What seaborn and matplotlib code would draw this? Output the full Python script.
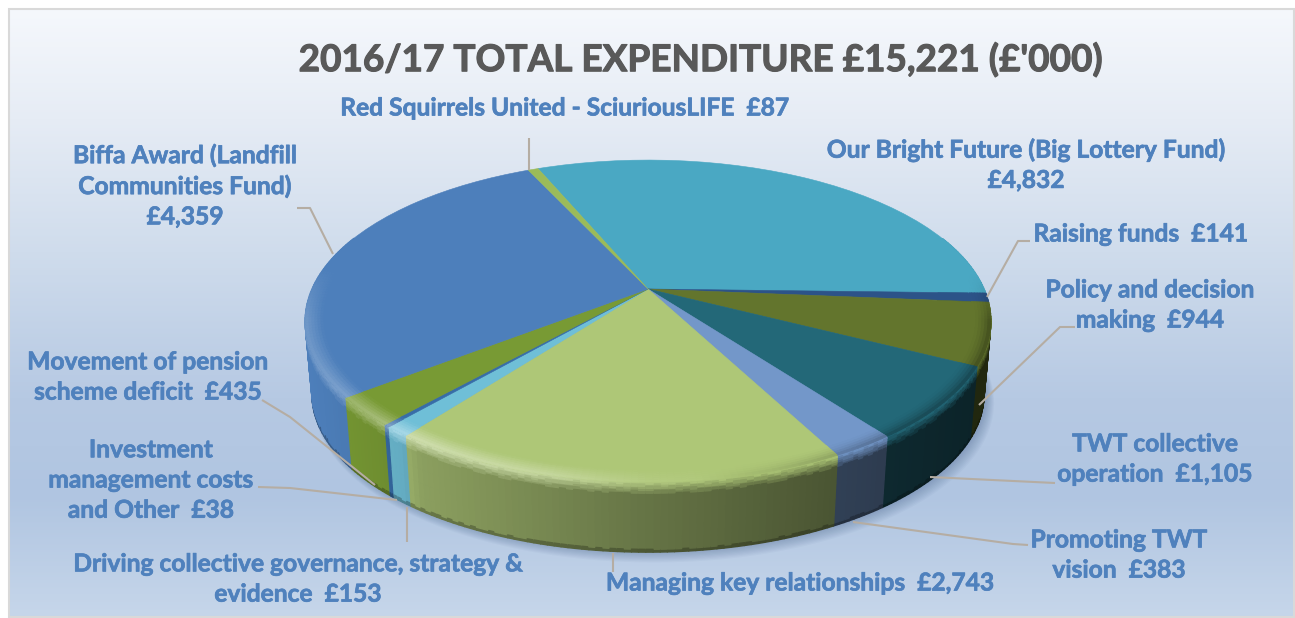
import numpy as np
import seaborn as sns
import matplotlib.pyplot as plt
import matplotlib.patheffects as pe
from matplotlib.collections import PolyCollection
from matplotlib.colors import LinearSegmentedColormap
from matplotlib.patches import Rectangle
from matplotlib.transforms import Transform

title = "2016/17 TOTAL EXPENDITURE £15,221 (£'000)"

# expenditure in £'000, clockwise from the top of the pie
categories = ["Our Bright Future (Big Lottery Fund)", "Raising funds", "Policy and decision making",
              "TWT collective operation", "Promoting TWT vision", "Managing key relationships",
              "Driving collective governance, strategy & evidence", "Investment management costs and Other",
              "Movement of pension scheme deficit", "Biffa Award (Landfill Communities Fund)",
              "Red Squirrels United - SciuriousLIFE"]
values = [4832, 141, 944, 1105, 383, 2743, 153, 38, 435, 4359, 87]
label_text = ["Our Bright Future (Big Lottery Fund)\n£4,832", "Raising funds  £141",
              "Policy and decision\nmaking  £944", "TWT collective\noperation  £1,105",
              "Promoting TWT\nvision  £383", "Managing key relationships  £2,743",
              "Driving collective governance, strategy &\nevidence  £153",
              "Investment\nmanagement costs\nand Other  £38",
              "Movement of pension\nscheme deficit  £435", "Biffa Award (Landfill\nCommunities Fund)\n£4,359",
              "Red Squirrels United - SciuriousLIFE  £87"]
colors = ["#4AA8C3", "#2C5388", "#63752D", "#236878", "#7397C9", "#AEC777",
          "#6FBFD7", "#376DA8", "#789A34", "#4D7FBB", "#9BBB59"]

# layout in pixels
label_xy = [(1026, 165), (1141, 234), (1150, 305), (1155, 459), (1119, 555), (800, 583),
            (298, 579), (151, 480), (148, 377), (185, 186), (565, 108)]
leaders = [None, [(987, 297), (1018, 241), (1030, 241)], [(979, 405), (1060, 327), (1075, 327)],
           [(930, 477), (1055, 483)], [(853, 522), (1013, 544), (1028, 545)], [(613, 553), (613, 572)],
           [(407, 507), (407, 542)], [(397, 500), (290, 488), (258, 487)], [(375, 485), (290, 417), (262, 400)],
           [(333, 254), (310, 208), (297, 208)], [(529, 170), (529, 138)]]

sns.set_theme(style="white")
plt.rcParams["font.family"] = ["Lato", "DejaVu Sans"]
palette = sns.color_palette(colors)


class TiltedDisc(Transform):
    # unit circle seen in perspective, in pixels
    input_dims = output_dims = 2

    def __init__(self, scale=1.0, drop=0.0, shift=0.0):
        super().__init__()
        self.scale, self.drop, self.shift = scale, drop, shift

    def transform_non_affine(self, xy):
        xy = np.asarray(xy, dtype=float)
        w = 1 / (1 + 0.199 * xy[:, 1])
        return np.column_stack([648 + self.shift + 336 * self.scale * xy[:, 0] * w,
                                289 + self.drop - 154.6 * self.scale * xy[:, 1] * w])


top_disc = TiltedDisc()
bottom_disc = TiltedDisc(0.98, 74)

fig = plt.figure(figsize=(12.95, 6.18), dpi=100)
ax = fig.add_axes([0, 0, 1, 1])

backdrop = LinearSegmentedColormap.from_list("backdrop", [
    (0, "#F5F8FC"), (0.18, "#E6ECF5"), (0.4, "#CFDCEC"), (0.64, "#B6C9E3"), (0.8, "#B0C5E1"), (1, "#C6D6EA")])
ax.imshow(np.linspace(0, 1, 256)[:, None], cmap=backdrop, aspect="auto", extent=(9, 1294, 617, 9), zorder=0)
ax.add_patch(Rectangle((9, 9), 1285, 608, fill=False, edgecolor="#D9D9D9", linewidth=1.5, zorder=1))

wedges, _ = ax.pie(values, colors=palette, startangle=112.8, counterclock=False, radius=1,
                   wedgeprops={"linewidth": 0.4})
for wedge, color in zip(wedges, palette):
    wedge.set_transform(top_disc + ax.transData)
    wedge.set_edgecolor(color)
    wedge.set_zorder(4)

# soft shadow under the disc
ring = np.radians(np.arange(0, 361, 2))
ring = np.column_stack([np.cos(ring), np.sin(ring)])
for grow in np.linspace(0, 1, 10):
    shadow = TiltedDisc(0.98 + 0.012 * grow, 74 + 8 * grow, 2 + 4 * grow)
    ax.fill(*shadow.transform(ring).T, color="#2F4D78", alpha=0.035, linewidth=0, zorder=2)


def side_shade(x):
    return np.interp(x, [305, 400, 420, 650, 830, 880, 990], [1.0, 0.9, 0.8, 0.58, 0.43, 0.4, 0.33])


def edge_light(x):
    return np.interp(x, [305, 410, 550, 650, 750, 1000], [0.2, 0.42, 0.3, 0.08, 0, 0])


# side wall and bevelled rim, one small quad per degree
side_rows = np.array([0, 0.03, 0.06, 0.09, 0.12, 0.16, 0.2, 0.4, 0.6, 0.8, 0.96, 1])
rim_rows = np.linspace(0.95, 1, 7)
side_polys, side_colors, side_order, rim_polys, rim_colors = [], [], [], [], []
for wedge, color in zip(wedges, palette):
    base = np.array(color)
    steps = max(2, int(np.ceil(wedge.theta2 - wedge.theta1)))
    angles = np.radians(np.linspace(wedge.theta1, wedge.theta2, steps + 1))
    for a0, a1 in zip(angles[:-1], angles[1:]):
        corners = np.array([[np.cos(a0), np.sin(a0)], [np.cos(a1), np.sin(a1)]])
        mid_v = np.sin((a0 + a1) / 2)
        if mid_v > 0.35:
            continue
        top, bottom = top_disc.transform(corners), bottom_disc.transform(corners)
        mid_x = top[:, 0].mean()
        edge = base + edge_light(mid_x) * (1 - base)
        wall = base * side_shade(mid_x)
        for t0, t1 in zip(side_rows[:-1], side_rows[1:]):
            p = lambda t: top + t * (bottom - top)
            side_polys.append(np.vstack([p(t0), p(t1)[::-1]]))
            mix = np.clip((t0 + t1) / 2 / 0.18, 0, 1)
            shade = edge * (1 - mix) + wall * mix
            if t0 >= 0.96:
                shade = shade * 0.75
            side_colors.append(shade)
            side_order.append(mid_v)
        strength = np.clip(-mid_v * 3 + 0.4, 0, 1)
        for r0, r1 in zip(rim_rows[:-1], rim_rows[1:]):
            inner, outer = top_disc.transform(corners * r0), top_disc.transform(corners * r1)
            rim_polys.append(np.vstack([inner, outer[::-1]]))
            mix = strength * ((r0 + r1) / 2 - 0.95) / 0.05
            dark = np.clip((mid_x - 700) / 200, 0, 1) * mix ** 2 * 0.5
            rim_colors.append((base * (1 - mix) + edge * mix) * (1 - dark) + wall * dark)

order = np.argsort(-np.array(side_order))
ax.add_collection(PolyCollection([side_polys[i] for i in order], facecolors=[side_colors[i] for i in order],
                                 edgecolors="face", linewidths=1.0, zorder=3))
ax.add_collection(PolyCollection(rim_polys, facecolors=rim_colors, edgecolors="face", linewidths=0.6, zorder=5))

for line in leaders:
    if line:
        ax.plot(*zip(*line), color="#B5ADA3", linewidth=1.5, solid_capstyle="butt", zorder=6)

for text, (x, y) in zip(label_text, label_xy):
    ax.text(x, y, text, color="#4F81BD", fontsize=17.7, fontweight="bold", ha="center", va="center",
            linespacing=1.38, zorder=7, path_effects=[pe.withStroke(linewidth=0.5, foreground="#4F81BD")])
ax.text(700, 60, title, color="#595959", fontsize=26.6, fontweight="bold", ha="center", va="center", zorder=7,
        path_effects=[pe.withStroke(linewidth=0.8, foreground="#595959")])

ax.set_aspect("auto")
ax.set_xlim(0, 1295)
ax.set_ylim(618, 0)
fig.savefig("out.png", dpi=100)
